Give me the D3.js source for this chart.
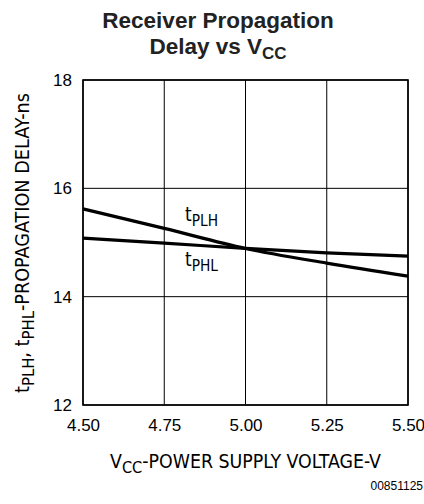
<!DOCTYPE html>
<html>
<head>
<meta charset="utf-8">
<script src="https://cdn.jsdelivr.net/npm/d3@7"></script>
<style>
  body { margin: 0; background: #fff; }
  svg { display: block; }
  .title { font-family: "Liberation Sans", Arial, sans-serif; font-weight: bold; font-size: 22.5px; fill: #222; }
  .tick text { font-family: "Liberation Sans", Arial, sans-serif; font-size: 17px; fill: #000; }
  .lab { font-family: "DejaVu Sans Condensed", "Liberation Sans Narrow", "DejaVu Sans", sans-serif; font-size: 19px; fill: #000; }
</style>
</head>
<body>
<div id="chart"></div>
<script>
// valores
const vcc = [4.50, 4.75, 5.00, 5.25, 5.50];
const tPLH = [15.62, 15.26, 14.89, 14.62, 14.38];
const tPHL = [15.08, 14.99, 14.89, 14.81, 14.75];
const xTicks = [4.50, 4.75, 5.00, 5.25, 5.50];
const yTicks = [12, 14, 16, 18];

const width = 424, height = 504;
const m = { left: 83, right: 408, top: 80, bottom: 405 };

const svg = d3.select('#chart').append('svg')
    .attr('width', width)
    .attr('height', height);

const x = d3.scaleLinear().domain([4.5, 5.5]).range([m.left, m.right]);
const y = d3.scaleLinear().domain([12, 18]).range([m.bottom, m.top]);

// grade
svg.append('g')
    .selectAll('line')
    .data(xTicks)
    .join('line')
    .attr('x1', d => x(d)).attr('x2', d => x(d))
    .attr('y1', m.top).attr('y2', m.bottom)
    .attr('stroke', '#000').attr('stroke-width', 1);

svg.append('g')
    .selectAll('line')
    .data(yTicks)
    .join('line')
    .attr('x1', m.left).attr('x2', m.right)
    .attr('y1', d => y(d)).attr('y2', d => y(d))
    .attr('stroke', '#000').attr('stroke-width', 1);

svg.append('rect')
    .attr('x', m.left).attr('y', m.top)
    .attr('width', m.right - m.left).attr('height', m.bottom - m.top)
    .attr('fill', 'none').attr('stroke', '#000').attr('stroke-width', 1.6);

// eixos (so os rotulos)
const xAxis = svg.append('g')
    .attr('transform', `translate(0,${m.bottom})`)
    .call(d3.axisBottom(x).tickValues(xTicks).tickFormat(d3.format('.2f')).tickSize(0).tickPadding(14));
xAxis.select('.domain').remove();

const yAxis = svg.append('g')
    .attr('transform', `translate(${m.left},0)`)
    .call(d3.axisLeft(y).tickValues(yTicks).tickFormat(d3.format('d')).tickSize(0).tickPadding(11));
yAxis.select('.domain').remove();

// curvas
const line = d3.line().x(d => x(d[0])).y(d => y(d[1])).curve(d3.curveMonotoneX);

svg.append('path')
    .datum(d3.zip(vcc, tPLH))
    .attr('d', line)
    .attr('fill', 'none').attr('stroke', '#000').attr('stroke-width', 3.2);

svg.append('path')
    .datum(d3.zip(vcc, tPHL))
    .attr('d', line)
    .attr('fill', 'none').attr('stroke', '#000').attr('stroke-width', 3.2);

// rotulos das curvas
function sublabel(g, main, sub, size) {
    g.append('tspan').text(main);
    g.append('tspan').attr('dy', size * 0.3).attr('font-size', size * 0.85).text(sub);
}

const l1 = svg.append('text').attr('class', 'lab').attr('x', 185).attr('y', 221);
sublabel(l1, 't', 'PLH', 18);
const l2 = svg.append('text').attr('class', 'lab').attr('x', 185).attr('y', 266);
sublabel(l2, 't', 'PHL', 18);

// titulo
svg.append('text').attr('class', 'title')
    .attr('x', 218).attr('y', 28).attr('text-anchor', 'middle')
    .text('Receiver Propagation');
const t2 = svg.append('text').attr('class', 'title')
    .attr('x', 218).attr('y', 54).attr('text-anchor', 'middle');
t2.append('tspan').text('Delay vs V');
t2.append('tspan').attr('dy', 5).attr('font-size', 17).text('CC');

// titulo eixo x
const xl = svg.append('text').attr('class', 'lab')
    .attr('x', 110).attr('y', 468)
    .attr('textLength', 271).attr('lengthAdjust', 'spacingAndGlyphs');
xl.append('tspan').text('V');
xl.append('tspan').attr('dy', 5).attr('font-size', 16).text('CC');
xl.append('tspan').attr('dy', -5).text('-POWER SUPPLY VOLTAGE-V');

// titulo eixo y
const yl = svg.append('text').attr('class', 'lab')
    .attr('transform', 'translate(29,393) rotate(-90)')
    .attr('textLength', 300).attr('lengthAdjust', 'spacingAndGlyphs');
yl.append('tspan').text('t');
yl.append('tspan').attr('dy', 5).attr('font-size', 16).text('PLH');
yl.append('tspan').attr('dy', -5).text(', t');
yl.append('tspan').attr('dy', 5).attr('font-size', 16).text('PHL');
yl.append('tspan').attr('dy', -5).text('-PROPAGATION DELAY-ns');

svg.append('text')
    .attr('x', 423).attr('y', 490).attr('text-anchor', 'end')
    .attr('font-family', 'Liberation Sans, Arial, sans-serif').attr('font-size', 12)
    .text('00851125');
</script>
</body>
</html>
